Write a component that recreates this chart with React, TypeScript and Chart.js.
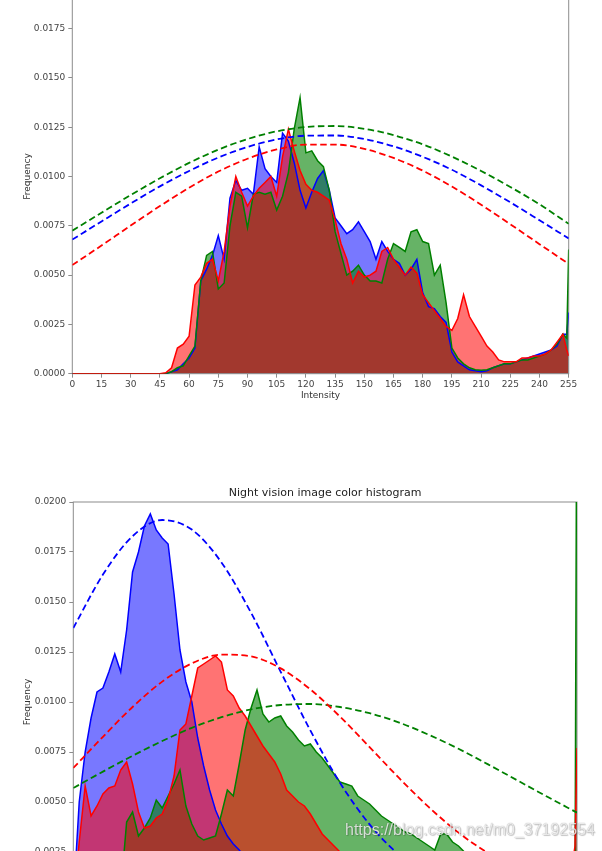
import React, { useEffect, useRef } from 'react';
import { Chart, registerables } from 'chart.js';

Chart.register(...registerables);

const FONT = "'DejaVu Sans', 'Noto Sans', sans-serif";

// ---------- Top chart (day image) ----------
const topIntensity = [0, 45, 48, 51, 54, 57, 60, 63, 66, 69, 72, 75, 78, 81, 84, 87, 90, 93, 96, 99, 102, 105, 108, 111, 114, 117, 120, 123, 126, 129, 132, 135, 138, 141, 144, 147, 150, 153, 156, 159, 162, 165, 168, 171, 174, 177, 180, 183, 186, 189, 192, 195, 198, 201, 204, 207, 210, 213, 216, 219, 222, 225, 228, 231, 234, 237, 240, 243, 246, 249, 252, 254, 255];
const topRed = [0, 0, 0.00005, 0.0003, 0.0013, 0.0015, 0.0019, 0.0045, 0.0049, 0.0056, 0.0058, 0.0047, 0.0062, 0.0085, 0.0100, 0.0092, 0.0085, 0.0090, 0.0094, 0.0097, 0.0100, 0.0090, 0.0110, 0.0124, 0.0113, 0.0103, 0.0096, 0.0093, 0.0092, 0.0090, 0.0088, 0.0078, 0.0066, 0.0058, 0.0046, 0.0052, 0.0049, 0.0050, 0.0052, 0.0062, 0.0064, 0.0058, 0.0054, 0.0050, 0.0054, 0.0051, 0.0040, 0.0036, 0.0032, 0.0028, 0.0024, 0.0022, 0.0028, 0.0040, 0.0029, 0.0024, 0.0019, 0.0014, 0.0011, 0.0007, 0.0006, 0.0006, 0.0006, 0.0008, 0.0008, 0.0009, 0.0009, 0.0010, 0.0012, 0.0016, 0.0020, 0.0012, 0.0009];
const topGreen = [0, 0, 0, 0.0001, 0.0003, 0.0004, 0.0009, 0.0014, 0.0047, 0.0060, 0.0062, 0.0043, 0.0046, 0.0075, 0.0092, 0.0090, 0.0074, 0.0091, 0.0092, 0.0091, 0.0092, 0.0083, 0.0090, 0.0102, 0.0124, 0.0140, 0.0112, 0.0113, 0.0108, 0.0105, 0.0093, 0.0072, 0.0061, 0.0050, 0.0052, 0.0055, 0.0050, 0.0047, 0.0047, 0.0046, 0.0058, 0.0066, 0.0064, 0.0062, 0.0072, 0.0073, 0.0067, 0.0066, 0.0050, 0.0055, 0.0036, 0.0013, 0.0008, 0.0005, 0.0003, 0.0002, 0.00018, 0.0002, 0.0003, 0.0004, 0.0005, 0.0005, 0.0006, 0.0007, 0.0007, 0.0008, 0.0009, 0.0010, 0.0012, 0.0015, 0.0020, 0.0018, 0.0063];
const topBlue = [0, 0, 0, 0.0001, 0.0002, 0.0005, 0.0008, 0.0013, 0.0047, 0.0053, 0.0060, 0.0070, 0.0058, 0.0089, 0.0098, 0.0093, 0.0094, 0.0091, 0.0115, 0.0104, 0.0100, 0.0097, 0.0122, 0.0118, 0.0107, 0.0093, 0.0084, 0.0092, 0.0099, 0.0103, 0.0093, 0.0079, 0.0075, 0.0071, 0.0073, 0.0077, 0.0072, 0.0067, 0.0058, 0.0067, 0.0062, 0.0058, 0.0056, 0.0050, 0.0053, 0.0058, 0.0041, 0.0034, 0.0033, 0.0029, 0.0026, 0.0011, 0.0006, 0.0004, 0.0002, 0.00015, 0.0001, 0.00015, 0.0003, 0.0004, 0.0005, 0.0005, 0.0006, 0.0007, 0.0008, 0.0009, 0.0010, 0.0011, 0.0012, 0.0014, 0.0020, 0.0020, 0.0031];

const fitIntensity = [0, 15, 30, 45, 60, 75, 90, 105, 120, 135, 150, 165, 180, 195, 210, 225, 240, 255];
const topRedFit = [0.00551, 0.0065, 0.00751, 0.0085, 0.00943, 0.01025, 0.0109, 0.01137, 0.01162, 0.01162, 0.0114, 0.01094, 0.0103, 0.00949, 0.00857, 0.00758, 0.00657, 0.00557];
const topGreenFit = [0.00725, 0.00816, 0.00906, 0.00991, 0.01069, 0.01136, 0.0119, 0.01229, 0.01251, 0.01256, 0.01242, 0.0121, 0.01163, 0.01101, 0.01028, 0.00947, 0.00859, 0.0076];
const topBlueFit = [0.0068, 0.00772, 0.00863, 0.0095, 0.01028, 0.01096, 0.0115, 0.01188, 0.01207, 0.01208, 0.0119, 0.01153, 0.011, 0.01034, 0.00955, 0.00869, 0.00778, 0.00686];

// ---------- Bottom chart (night vision image) ----------
const nightIntensity = [0, 3, 6, 9, 12, 15, 18, 21, 24, 27, 30, 33, 36, 39, 42, 45, 48, 51, 54, 57, 60, 63, 66, 69, 72, 75, 78, 81, 84, 87, 90, 93, 96, 99, 102, 105, 108, 111, 114, 117, 120, 123, 126, 129, 132, 135, 138, 141, 144, 147, 150, 153, 156, 159, 162, 165, 168, 171, 174, 177, 180, 183, 186, 189, 192, 195, 198, 201, 204, 207, 210, 213, 216, 219, 222, 225, 228, 231, 234, 237, 240, 243, 246, 249, 252, 254, 255];
const nightBlue = [0, 0.0050, 0.0075, 0.0092, 0.0105, 0.0107, 0.0115, 0.0124, 0.0115, 0.0136, 0.0165, 0.0175, 0.0188, 0.0194, 0.0186, 0.0182, 0.0179, 0.0154, 0.0126, 0.0110, 0.0100, 0.0082, 0.0068, 0.0056, 0.0046, 0.0039, 0.0033, 0.0029, 0.0026, 0.0022, 0.0019, 0.0017, 0.0015, 0.0013, 0.0011, 0.0010, 0.0008, 0.0007, 0.0006, 0.0005, 0.0004, 0.0004, 0.0003, 0.0003, 0.0002, 0.0002, 0.0002, 0.0001, 0.0001, 0.0001, 0.0001, 0.0001, 0.0001, 0.0001, 0.0001, 0.0001, 0.0001, 0.0001, 0.0001, 0.0001, 0.0001, 0.0001, 0.0001, 0.0001, 0.0001, 0.0001, 0.0001, 0.0001, 0.0001, 0.0001, 0.0001, 0.0001, 0.0001, 0.0001, 0.0001, 0.0001, 0.0001, 0.0001, 0.0001, 0.0001, 0.0001, 0.0001, 0.0002, 0.0002, 0.0003, 0.0004, 0.0010];
const nightRed = [0, 0.0030, 0.0058, 0.0043, 0.0048, 0.0054, 0.0057, 0.0058, 0.0066, 0.0070, 0.0059, 0.0045, 0.0037, 0.0038, 0.0042, 0.0044, 0.0051, 0.0063, 0.0086, 0.0089, 0.0103, 0.0117, 0.0119, 0.0121, 0.0123, 0.0120, 0.0106, 0.0103, 0.0097, 0.0093, 0.0088, 0.0083, 0.0078, 0.0074, 0.0070, 0.0064, 0.0056, 0.0053, 0.0050, 0.0048, 0.0044, 0.0039, 0.0034, 0.0031, 0.0028, 0.0025, 0.0023, 0.0021, 0.0019, 0.0017, 0.0015, 0.0014, 0.0012, 0.0011, 0.0010, 0.0009, 0.0008, 0.0007, 0.0006, 0.0006, 0.0005, 0.0005, 0.0004, 0.0004, 0.0003, 0.0003, 0.0003, 0.0002, 0.0002, 0.0002, 0.0002, 0.0002, 0.0002, 0.0002, 0.0002, 0.0002, 0.0002, 0.0002, 0.0002, 0.0002, 0.0003, 0.0003, 0.0004, 0.0006, 0.0015, 0.0028, 0.0077];
const nightGreen = [0, 0, 0, 0, 0, 0, 0, 0, 0.0005, 0.0040, 0.0045, 0.0033, 0.0037, 0.0042, 0.0051, 0.0047, 0.0053, 0.0059, 0.0066, 0.0048, 0.0039, 0.0033, 0.0031, 0.0032, 0.0033, 0.0044, 0.0056, 0.0053, 0.0069, 0.0086, 0.0097, 0.0106, 0.0094, 0.0090, 0.0092, 0.0093, 0.0088, 0.0085, 0.0081, 0.0078, 0.0079, 0.0075, 0.0072, 0.0068, 0.0064, 0.0060, 0.0059, 0.0058, 0.0053, 0.0051, 0.0049, 0.0046, 0.0043, 0.0041, 0.0039, 0.0037, 0.0035, 0.0034, 0.0032, 0.0030, 0.0028, 0.0026, 0.0034, 0.0034, 0.0030, 0.0028, 0.0025, 0.0023, 0.0021, 0.0019, 0.0017, 0.0015, 0.0013, 0.0012, 0.0010, 0.0009, 0.0008, 0.0007, 0.0006, 0.0005, 0.0005, 0.0004, 0.0004, 0.0005, 0.0006, 0.0008, 0.0300];
const nightRedFit = [0.0067, 0.00826, 0.00975, 0.01102, 0.01193, 0.01237, 0.01228, 0.01168, 0.01063, 0.00927, 0.00774, 0.00619, 0.00474, 0.00347, 0.00244, 0.00164, 0.00106, 0.00065];
const nightGreenFit = [0.0057, 0.00652, 0.00731, 0.00805, 0.00871, 0.00924, 0.00963, 0.00985, 0.0099, 0.00975, 0.00944, 0.00897, 0.00836, 0.00766, 0.00688, 0.00607, 0.00526, 0.00447];
const nightBlueFit = [0.0137, 0.01637, 0.01829, 0.0191, 0.01862, 0.01698, 0.01446, 0.01151, 0.00858, 0.00596, 0.00388, 0.00235, 0.00134, 0.00071, 0.00035, 0.00016, 0.00007, 0.00003];

const nightTitle = 'Night vision image color histogram';
const xTitle = 'Intensity';
const yTitle = 'Frequency';
const yMax = 0.02;
const yStep = 0.0025;
const xMax = 255;
const xStep = 15;

const RED = '#ff0000';
const GREEN = '#008000';
const BLUE = '#0000ff';
const RED_FILL = 'rgba(255,0,0,0.55)';
const GREEN_FILL = 'rgba(0,128,0,0.6)';
const BLUE_FILL = 'rgba(0,0,255,0.53)';
const SPINE = '#8c8c8c';
const TEXT = '#444';

const pts = (xs: number[], ys: number[]) => xs.map((x, i) => ({ x, y: ys[i] }));

const hist = (label: string, xs: number[], ys: number[], color: string, fillColor: string, order: number) => ({
  label,
  data: pts(xs, ys),
  borderColor: color,
  backgroundColor: fillColor,
  borderWidth: 1.5,
  pointRadius: 0,
  fill: 'origin',
  tension: 0,
  order,
});

const fit = (label: string, xs: number[], ys: number[], color: string) => ({
  label,
  data: pts(xs, ys),
  borderColor: color,
  backgroundColor: 'transparent',
  borderWidth: 1.8,
  borderDash: [6.5, 3.5],
  pointRadius: 0,
  fill: false,
  cubicInterpolationMode: 'monotone',
  order: 0,
});

const framePlugin = {
  id: 'frame',
  beforeDatasetsDraw(chart: any) {
    const { ctx, chartArea: a } = chart;
    ctx.save();
    ctx.strokeStyle = SPINE;
    ctx.lineWidth = 1;
    ctx.strokeRect(a.left, a.top, a.right - a.left, a.bottom - a.top);
    ctx.restore();
  },
};

function makeOptions(p: { left: number; right: number; top: number; xh: number; titleBottomPad: number; extraScales?: any }) {
  const tickFont = { family: FONT, size: 9 };
  const labelFont = { family: FONT, size: 9 };
  return {
    responsive: false,
    animation: false,
    devicePixelRatio: 1,
    events: [],
    layout: { padding: { left: 0, right: p.right, top: p.top, bottom: 0 } },
    plugins: {
      legend: { display: false },
      tooltip: { enabled: false },
      title: { display: false },
      filler: { drawTime: 'beforeDatasetsDraw' },
    },
    scales: {
      x: {
        type: 'linear',
        position: 'bottom',
        min: 0,
        max: xMax,
        afterFit: (s: any) => { s.height = p.xh; },
        ticks: { stepSize: xStep, autoSkip: false, maxRotation: 0, padding: 2, color: TEXT, font: tickFont },
        grid: { display: true, drawOnChartArea: false, drawTicks: true, tickLength: 4, tickColor: SPINE, tickWidth: 1 },
        border: { display: false },
        title: { display: true, text: xTitle, color: '#333', font: labelFont, padding: { top: 0, bottom: p.titleBottomPad } },
      },
      y: {
        type: 'linear',
        position: 'left',
        min: 0,
        max: yMax,
        afterFit: (s: any) => { s.width = p.left; },
        ticks: { stepSize: yStep, padding: 3, color: TEXT, font: tickFont, callback: (v: any) => Number(v).toFixed(4) },
        grid: { display: true, drawOnChartArea: false, drawTicks: true, tickLength: 4, tickColor: SPINE, tickWidth: 1 },
        border: { display: false },
        title: { display: true, text: yTitle, color: '#333', font: labelFont, padding: { top: 22.6, bottom: 0 } },
      },
      ...(p.extraScales || {}),
    },
  };
}

export default function App() {
  const topRef = useRef<HTMLCanvasElement | null>(null);
  const botRef = useRef<HTMLCanvasElement | null>(null);

  useEffect(() => {
    if (!topRef.current || !botRef.current) return;
    const top = new Chart(topRef.current, {
      type: 'line',
      data: {
        datasets: [
          fit('r fit', fitIntensity, topRedFit, RED),
          fit('g fit', fitIntensity, topGreenFit, GREEN),
          fit('b fit', fitIntensity, topBlueFit, BLUE),
          hist('r', topIntensity, topRed, RED, RED_FILL, 1),
          hist('g', topIntensity, topGreen, GREEN, GREEN_FILL, 2),
          hist('b', topIntensity, topBlue, BLUE, BLUE_FILL, 3),
        ] as any,
      },
      options: makeOptions({ left: 72.3, right: 33.3, top: 19.3, xh: 40.3, titleBottomPad: 12.6 }) as any,
      plugins: [framePlugin],
    });
    const bot = new Chart(botRef.current, {
      type: 'line',
      data: {
        datasets: [
          fit('r fit', fitIntensity, nightRedFit, RED),
          fit('g fit', fitIntensity, nightGreenFit, GREEN),
          fit('b fit', fitIntensity, nightBlueFit, BLUE),
          hist('r', nightIntensity, nightRed, RED, RED_FILL, 1),
          hist('g', nightIntensity, nightGreen, GREEN, GREEN_FILL, 2),
          hist('b', nightIntensity, nightBlue, BLUE, BLUE_FILL, 3),
        ] as any,
      },
      options: makeOptions({
        left: 73.3,
        right: 25,
        top: 0,
        xh: 40,
        titleBottomPad: 12,
        extraScales: {
          xTop: {
            type: 'linear',
            position: 'top',
            min: 0,
            max: xMax,
            afterFit: (s: any) => { s.height = 62; },
            ticks: { display: false },
            grid: { display: false },
            border: { display: false },
            title: { display: true, text: nightTitle, color: '#222', font: { family: FONT, size: 11 }, padding: { top: 46.1, bottom: 0 } },
          },
        },
      }) as any,
      plugins: [framePlugin],
    });
    return () => {
      top.destroy();
      bot.destroy();
    };
  }, []);

  return (
    <div style={{ position: 'fixed', left: 0, top: 0, width: 602, height: 851, overflow: 'hidden', background: '#fff' }}>
      <canvas ref={topRef} width={602} height={454} style={{ position: 'absolute', left: 0, top: -40, width: 602, height: 454 }} />
      <canvas ref={botRef} width={602} height={502} style={{ position: 'absolute', left: 0, top: 440, width: 602, height: 502 }} />
      <div
        style={{
          position: 'absolute',
          left: 345,
          top: 821,
          font: "16px 'Liberation Sans', Arial, sans-serif",
          color: 'rgba(255,255,255,0.8)',
          textShadow: '0 0 1px rgba(0,0,0,0.45), 1px 1px 1px rgba(0,0,0,0.2)',
          whiteSpace: 'nowrap',
        }}
      >
        https://blog.csdn.net/m0_37192554
      </div>
    </div>
  );
}
